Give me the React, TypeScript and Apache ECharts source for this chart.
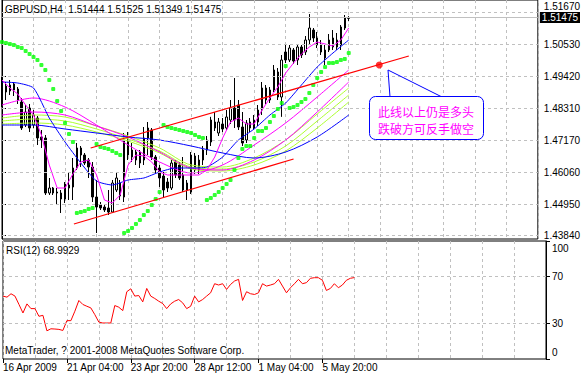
import React, { useEffect, useRef } from 'react';
import * as echarts from 'echarts';

const SYMBOL = 'GBPUSD,H4';
const FONT = '"Liberation Sans", Arial, sans-serif';
const CJK_FONT = '"Noto Sans CJK SC", sans-serif';

// H4 bars (index 0 = 16 Apr 2009 00:00)
const opens = [1.4929, 1.4887, 1.49115, 1.4915, 1.48975, 1.4852, 1.47715, 1.4831, 1.47715, 1.4796,
  1.47295, 1.4726, 1.45335, 1.4551, 1.4537, 1.45335, 1.45125, 1.4551, 1.45545, 1.4621,
  1.4691, 1.46665, 1.4649, 1.46245, 1.45195, 1.44915, 1.44845, 1.4481, 1.4467, 1.4544,
  1.45685, 1.45195, 1.4719, 1.4684, 1.4649, 1.4677, 1.4649, 1.4726, 1.4754, 1.46595,
  1.4621, 1.4593, 1.4572, 1.4551, 1.4642, 1.46315, 1.45965, 1.45685, 1.4537, 1.4663,
  1.4614, 1.4649, 1.4684, 1.4712, 1.4782, 1.47435, 1.4775, 1.4761, 1.4789, 1.4831,
  1.48415, 1.47645, 1.4719, 1.4782, 1.4761, 1.4782, 1.4824, 1.4901, 1.4859, 1.4894,
  1.4957, 1.48695, 1.5027, 1.4999, 1.5034, 1.4999, 1.50445, 1.5027, 1.5069, 1.5104,
  1.5076, 1.50515, 1.5006, 1.5034, 1.5076, 1.5069, 1.50515, 1.5111, 1.51444];
const closes = [1.4845, 1.4908, 1.48905, 1.4894, 1.4859, 1.4761, 1.4817, 1.4761, 1.48065, 1.4726,
  1.4719, 1.45335, 1.4551, 1.45335, 1.45335, 1.45125, 1.4565, 1.45615, 1.4621, 1.4691,
  1.46665, 1.46385, 1.46245, 1.45195, 1.44845, 1.4481, 1.4474, 1.4467, 1.45685, 1.4586,
  1.4523, 1.4719, 1.46665, 1.46595, 1.4677, 1.46385, 1.4726, 1.4761, 1.46595, 1.4614,
  1.4586, 1.4544, 1.4551, 1.46385, 1.45965, 1.4586, 1.4544, 1.4544, 1.46665, 1.4614,
  1.4649, 1.4684, 1.4719, 1.4789, 1.4761, 1.4782, 1.47575, 1.47995, 1.4831, 1.4789,
  1.47645, 1.47085, 1.47785, 1.4761, 1.4789, 1.4824, 1.4901, 1.4859, 1.4894, 1.4964,
  1.48695, 1.4999, 1.4999, 1.5041, 1.49955, 1.50445, 1.50165, 1.5069, 1.5111, 1.5076,
  1.50515, 1.5027, 1.5034, 1.5069, 1.50445, 1.50445, 1.51145, 1.5146, 1.51475];
const lows = [1.48345, 1.4859, 1.48765, 1.4873, 1.4845, 1.4754, 1.47645, 1.4747, 1.4761, 1.47015,
  1.4691, 1.45265, 1.45265, 1.45265, 1.44915, 1.44635, 1.44985, 1.4509, 1.4509, 1.4614,
  1.46245, 1.46315, 1.4586, 1.4502, 1.43935, 1.4474, 1.4467, 1.44565, 1.44635, 1.4537,
  1.4509, 1.4502, 1.4649, 1.4642, 1.46315, 1.4621, 1.46315, 1.46665, 1.4649, 1.46035,
  1.45545, 1.45195, 1.4537, 1.4544, 1.4586, 1.4579, 1.4537, 1.4509, 1.453, 1.46,
  1.46, 1.46315, 1.46665, 1.4698, 1.47505, 1.4733, 1.4747, 1.4754, 1.4775, 1.4761,
  1.4754, 1.4698, 1.47085, 1.4747, 1.4754, 1.4768, 1.48065, 1.4845, 1.48485, 1.4887,
  1.4859, 1.48, 1.49885, 1.4992, 1.4985, 1.49815, 1.5006, 1.50165, 1.50515, 1.5062,
  1.5041, 1.50165, 1.49815, 1.5027, 1.5034, 1.5034, 1.5034, 1.5104, 1.51349];
const highs = [1.49395, 1.4922, 1.4929, 1.4922, 1.49045, 1.4866, 1.48415, 1.4845, 1.4824, 1.4803,
  1.4754, 1.47365, 1.4586, 1.45545, 1.4551, 1.4544, 1.4572, 1.46035, 1.4656, 1.47085,
  1.4698, 1.46735, 1.4656, 1.4642, 1.4579, 1.4502, 1.44915, 1.4544, 1.4579, 1.4607,
  1.4579, 1.47435, 1.4747, 1.47085, 1.4684, 1.4684, 1.47645, 1.4782, 1.4761, 1.46665,
  1.46315, 1.4607, 1.4586, 1.4649, 1.4649, 1.4642, 1.46595, 1.4579, 1.4677, 1.46735,
  1.46665, 1.4698, 1.4733, 1.48, 1.4817, 1.4796, 1.4796, 1.4824, 1.4859, 1.4936,
  1.4859, 1.4817, 1.4789, 1.4796, 1.48065, 1.48415, 1.4922, 1.49115, 1.49045, 1.49815,
  1.4971, 1.50165, 1.50515, 1.50515, 1.5041, 1.50515, 1.50515, 1.5083, 1.516, 1.5111,
  1.5097, 1.5069, 1.50515, 1.509, 1.5104, 1.50935, 1.51215, 1.51565, 1.51525];

// Parabolic SAR, one value per bar
const sar = [1.5062, 1.50585, 1.5055, 1.50515, 1.50445, 1.5041, 1.50305, 1.502, 1.50095, 1.4999,
  1.49815, 1.4964, 1.4929, 1.48975, 1.48555, 1.48205, 1.47785, 1.474, 1.4712,
  1.44635, 1.4467, 1.44705, 1.44775, 1.4481,
  1.4705, 1.46945, 1.4691, 1.46875, 1.46805, 1.46735, 1.46665,
  1.43935, 1.44005, 1.4411, 1.4425, 1.4439, 1.44565, 1.44705, 1.44915, 1.45125, 1.4537,
  1.47715, 1.47645, 1.4761, 1.47575, 1.4754, 1.47505, 1.4747, 1.47435, 1.47365, 1.47295, 1.4726,
  1.4509, 1.4516, 1.45265, 1.4537, 1.4551, 1.4565, 1.4579, 1.4614, 1.4656, 1.46875, 1.4698, 1.4698, 1.4726, 1.47505, 1.47505, 1.4761, 1.4782, 1.4803, 1.48275, 1.48485,
  1.4978,
  1.4831, 1.48345, 1.48415, 1.4852, 1.48625, 1.48835, 1.49115, 1.4936, 1.4957, 1.49745, 1.49885, 1.49885, 1.4992, 1.4999, 1.50025, 1.50235];

const maMagentaFast = [1.4929, 1.4901, 1.488, 1.48415, 1.48065, 1.47365, 1.46315, 1.4551, 1.4551, 1.46, 1.4642, 1.4649, 1.45965, 1.4509, 1.44985, 1.45265, 1.46315, 1.46665, 1.4663, 1.4642, 1.4607, 1.45965, 1.45965, 1.45965, 1.45965, 1.45965, 1.4614, 1.46595, 1.4726, 1.4782, 1.4796, 1.4775, 1.4775, 1.4824, 1.4866, 1.49045, 1.49535, 1.49885, 1.502, 1.50445, 1.5062, 1.5055, 1.5048, 1.5069, 1.5111];
const maBlueFast = [1.4922, 1.49185, 1.4901, 1.4796, 1.4712, 1.46385, 1.45755, 1.45615, 1.4579, 1.4586, 1.4607, 1.4621, 1.4621, 1.46245, 1.46595, 1.4719, 1.47575, 1.48065, 1.48485, 1.49115, 1.49745, 1.50235, 1.5069];
const maBlueSlow = [1.47715, 1.47715, 1.47575, 1.47435, 1.47295, 1.4719, 1.4698, 1.46735, 1.4656, 1.4677, 1.47295, 1.48065];
const maMagentaMid = [1.48415, 1.4866, 1.48345, 1.47715, 1.47015, 1.4642, 1.46035, 1.46315, 1.47015, 1.47785, 1.48695, 1.4964];
const maMagentaSlow = [1.48065, 1.4817, 1.48065, 1.4768, 1.47295, 1.4677, 1.4621, 1.4614, 1.4649, 1.4719, 1.4817, 1.4922];
const maGreen1 = [1.4796, 1.48065, 1.47995, 1.4768, 1.4733, 1.4691, 1.46315, 1.46245, 1.4656, 1.4719, 1.481, 1.4901];
const maGreen2 = [1.47855, 1.47925, 1.47855, 1.47575, 1.47225, 1.46805, 1.46245, 1.46175, 1.4642, 1.4698, 1.47855, 1.48765];
const maGreen3 = [1.4775, 1.47785, 1.47715, 1.4747, 1.47155, 1.46735, 1.46175, 1.46105, 1.46315, 1.46805, 1.4761, 1.4852];

// RSI(12)
const rsi = [53.3, 52.4, 55.3, 53.3, 46.2, 39.0, 46.7, 42.7, 42.7, 36.2,
  37.0, 23.9, 25.6, 25.4, 25.1, 24.2, 32.5, 32.5, 40.5, 49.6,
  46.2, 44.7, 43.3, 37.6, 31.3, 30.5, 30.5, 30.5, 45.3, 43.9,
  41.0, 57.0, 59.5, 53.3, 53.8, 48.4, 59.8, 53.3, 51.3, 49.0,
  47.0, 42.7, 46.7, 49.0, 50.4, 47.6, 42.7, 44.7, 53.3, 48.4,
  50.4, 53.3, 56.1, 63.8, 62.7, 63.8, 59.0, 63.2, 66.1, 67.5,
  49.6, 57.0, 55.3, 54.7, 56.1, 63.8, 61.8, 62.7, 63.8, 67.5,
  61.8, 56.1, 60.4, 63.8, 67.5, 63.8, 64.7, 68.4, 68.9, 68.9,
  66.7, 58.1, 59.8, 63.8, 60.4, 62.7, 66.7, 68.4, 68.9929];

const priceTicks = [1.4384, 1.4495, 1.4606, 1.4717, 1.4831, 1.4942, 1.5053, 1.5167];
const rsiTicks = [0, 30, 70, 100];
const rsiLevels = [30, 70];
const xTickLabels = ['16 Apr 2009', '21 Apr 04:00', '23 Apr 20:00', '28 Apr 12:00', '1 May 04:00', '5 May 20:00'];

// Drawn trend-line objects (bar index, price)
const upperTrend = [[22.5, 1.4691], [103.25, 1.5013]];
const lowerTrend = [[18.25, 1.4425], [74, 1.46525]];
const trendDot = [95.75, 1.49815];
const noteLines = ['此线以上仍是多头', '跌破方可反手做空'];
const copyright = 'MetaTrader, ? 2001-2008 MetaQuotes Software Corp.';

const SLOTS = 137;
const LABEL_STEP = 16;
const GRID_STEP = 8;

function sparse(values: number[], step: number): (number | null)[] {
  const out: (number | null)[] = new Array(opens.length).fill(null);
  values.forEach((v, k) => { out[k * step] = v; });
  return out;
}

export default function App() {
  const ref = useRef<HTMLDivElement>(null);
  useEffect(() => {
    if (!ref.current) return;
    const chart = echarts.init(ref.current, null, { renderer: 'svg' });
    const cats = Array.from({ length: SLOTS }, (_, i) =>
      i % LABEL_STEP === 0 && i / LABEL_STEP < xTickLabels.length ? xTickLabels[i / LABEL_STEP] : '');
    const last = opens.length - 1;
    const topTick = priceTicks[priceTicks.length - 1];
    const gridLine = { show: true, lineStyle: { color: '#c0c0c0', type: [3, 3] as any, width: 1 } };
    const txt = { fontFamily: FONT, fontSize: 10, color: '#000' };
    const maLine = (data: (number | null)[], color: string, smooth: number | boolean) => ({
      type: 'line', xAxisIndex: 0, yAxisIndex: 0, data, connectNulls: true, showSymbol: false, symbol: 'none',
      smooth, silent: true, z: 4, lineStyle: { color, width: 1 },
    });

    const option: any = {
      animation: false,
      backgroundColor: '#fff',
      textStyle: { fontFamily: FONT },
      title: [
        { text: `${SYMBOL}  ${opens[last].toFixed(5)} ${highs[last].toFixed(5)} ${lows[last].toFixed(5)} ${closes[last].toFixed(5)}`,
          left: 5, top: 4, padding: 0, textStyle: { ...txt, fontWeight: 'normal' } },
        { text: `RSI(12) ${rsi[last].toFixed(4)}`, left: 6, top: 245, padding: 0, textStyle: { ...txt, fontWeight: 'normal' } },
        { text: copyright, left: 5, top: 345, padding: 0, textStyle: { ...txt, fontWeight: 'normal' } },
      ],
      grid: [
        { left: 2, right: 37, top: 0, height: 239, show: true, borderColor: '#000', borderWidth: 1, backgroundColor: '#fff' },
        { left: 2, right: 37, top: 241, height: 118, show: true, borderColor: '#000', borderWidth: 1, backgroundColor: '#fff' },
      ],
      xAxis: [
        { type: 'category', gridIndex: 0, data: cats, boundaryGap: false,
          axisLine: { show: false }, axisTick: { show: false }, axisLabel: { show: false },
          splitLine: { ...gridLine, interval: (i: number) => i % GRID_STEP === 0 } },
        { type: 'category', gridIndex: 1, data: cats, boundaryGap: false,
          axisLine: { show: false },
          axisTick: { show: true, length: 4, interval: (i: number) => cats[i] !== '', lineStyle: { color: '#000' } },
          axisLabel: { ...txt, interval: (i: number) => cats[i] !== '', align: 'left', margin: 3 },
          splitLine: { ...gridLine, interval: (i: number) => i % GRID_STEP === 0 } },
        { type: 'value', gridIndex: 0, min: 0, max: SLOTS - 1, show: false },
      ],
      yAxis: [
        { type: 'value', gridIndex: 0, position: 'right', min: 1.43725, max: 1.5209,
          axisLine: { show: true, lineStyle: { color: '#000' } },
          axisTick: { show: true, length: 4, customValues: priceTicks, lineStyle: { color: '#000' } },
          axisLabel: { ...txt, customValues: priceTicks, margin: 6,
            formatter: (v: number) => (v === topTick ? `{up|${v.toFixed(5)}}` : v.toFixed(5)),
            rich: { up: { ...txt, padding: [0, 0, 11, 0] } } },
          splitLine: { show: false } },
        { type: 'value', gridIndex: 1, position: 'right', min: 0, max: 100,
          axisLine: { show: true, lineStyle: { color: '#000' } },
          axisTick: { show: true, length: 4, customValues: rsiTicks, lineStyle: { color: '#000' } },
          axisLabel: { ...txt, customValues: rsiTicks, margin: 6,
            formatter: (v: number) => (v === 100 ? `{t|${v}}` : v === 0 ? `{b|${v}}` : `${v}`),
            rich: { t: { ...txt, padding: [14, 0, 0, 0] }, b: { ...txt, padding: [0, 0, 14, 0] } } },
          splitLine: { show: false } },
      ],
      series: [
        { type: 'line', xAxisIndex: 0, yAxisIndex: 0, data: new Array(opens.length).fill(null), silent: true, z: 1,
          markLine: { silent: true, precision: 5, symbol: ['none', 'none'], label: { show: false },
            lineStyle: { color: '#c0c0c0', type: [3, 3], width: 1 },
            data: priceTicks.map((v) => ({ yAxis: v })) } },
        { type: 'line', xAxisIndex: 1, yAxisIndex: 1, data: new Array(opens.length).fill(null), silent: true, z: 1,
          markLine: { silent: true, symbol: ['none', 'none'], label: { show: false },
            lineStyle: { color: '#c0c0c0', type: [3, 3], width: 1 },
            data: rsiLevels.map((v) => ({ yAxis: v })) } },
        { type: 'candlestick', xAxisIndex: 0, yAxisIndex: 0, z: 3, barWidth: 2, silent: true,
          data: opens.map((o, i) => [o, closes[i], lows[i], highs[i]]),
          itemStyle: { color: '#fff', color0: '#000', borderColor: '#000', borderColor0: '#000', borderWidth: 1 },
          markLine: { silent: true, precision: 5, symbol: ['none', 'none'],
            lineStyle: { color: '#c0c0c0', type: 'solid', width: 1 },
            label: { show: true, position: 'end', distance: 2, formatter: (p: any) => Number(p.value).toFixed(5),
              backgroundColor: '#000', color: '#fff', padding: [1, 2, 0, 2], fontSize: 10, fontFamily: FONT },
            data: [{ yAxis: closes[last] }] } },
        maLine(sparse(maGreen3, 8), '#adff2f', 0.3),
        maLine(sparse(maGreen2, 8), '#adff2f', 0.3),
        maLine(sparse(maGreen1, 8), '#adff2f', 0.3),
        maLine(sparse(maMagentaSlow, 8), '#ff00ff', 0.3),
        maLine(sparse(maMagentaMid, 8), '#ff00ff', 0.3),
        maLine(sparse(maBlueSlow, 8), '#0000ff', 0.3),
        maLine(sparse(maBlueFast, 4), '#0000ff', 0.2),
        maLine(sparse(maMagentaFast, 2), '#ff00ff', false),
        { type: 'scatter', xAxisIndex: 0, yAxisIndex: 0, data: sar, symbol: 'roundRect', symbolSize: 4, silent: true, z: 5,
          itemStyle: { color: '#00ff00' } },
        { type: 'line', xAxisIndex: 2, yAxisIndex: 0, data: upperTrend, showSymbol: false, symbol: 'none', silent: true, z: 6,
          lineStyle: { color: '#ff0000', width: 1.3 } },
        { type: 'line', xAxisIndex: 2, yAxisIndex: 0, data: lowerTrend, showSymbol: false, symbol: 'none', silent: true, z: 6,
          lineStyle: { color: '#ff0000', width: 1.3 } },
        { type: 'scatter', xAxisIndex: 2, yAxisIndex: 0, data: [trendDot], symbol: 'circle', symbolSize: 7, silent: true, z: 7,
          itemStyle: { color: '#ff0000' } },
        { type: 'line', xAxisIndex: 1, yAxisIndex: 1, data: rsi, showSymbol: false, symbol: 'none', silent: true, z: 4,
          lineStyle: { color: '#ff0000', width: 1 } },
      ],
      graphic: [
        { type: 'line', shape: { x1: 388, y1: 70, x2: 390, y2: 97 }, style: { stroke: '#0000ff', lineWidth: 1 }, z: 10 },
        { type: 'line', shape: { x1: 388, y1: 70, x2: 442, y2: 97 }, style: { stroke: '#0000ff', lineWidth: 1 }, z: 10 },
        { type: 'rect', shape: { x: 369.5, y: 96.5, width: 114, height: 43, r: 6 },
          style: { fill: '#fff', stroke: '#0000ff', lineWidth: 1 }, z: 11 },
        { type: 'text', x: 426, y: 111, z: 12,
          style: { text: noteLines[0], fill: '#ff00ff', fontSize: 12, fontFamily: CJK_FONT, align: 'center', verticalAlign: 'middle' } },
        { type: 'text', x: 426, y: 128, z: 12,
          style: { text: noteLines[1], fill: '#ff00ff', fontSize: 12, fontFamily: CJK_FONT, align: 'center', verticalAlign: 'middle' } },
      ],
    };
    chart.setOption(option);
    return () => chart.dispose();
  }, []);
  return <div ref={ref} style={{ position: 'absolute', left: 0, top: 0, width: 583, height: 376 }} />;
}
